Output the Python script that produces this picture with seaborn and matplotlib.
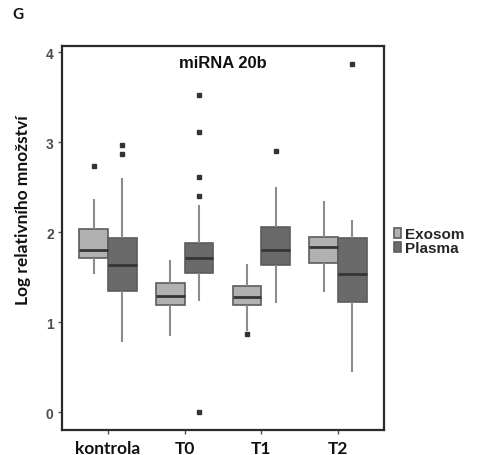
import matplotlib
matplotlib.use("Agg")
import matplotlib.pyplot as plt
import pandas as pd
import seaborn as sns

# Groups and sample fractions
groups = ["kontrola", "T0", "T1", "T2"]
fractions = ["Exosom", "Plasma"]

# Exosom: five-number summaries per group and outliers
exo_low = [1.53, 0.85, 0.90, 1.34]
exo_q1 = [1.71, 1.19, 1.19, 1.66]
exo_median = [1.80, 1.29, 1.28, 1.83]
exo_q3 = [2.04, 1.43, 1.40, 1.95]
exo_high = [2.37, 1.69, 1.65, 2.35]
exo_outliers = [[2.74], [], [0.87], []]

# Plasma: five-number summaries per group and outliers
pla_low = [0.78, 1.24, 1.21, 0.44]
pla_q1 = [1.35, 1.55, 1.63, 1.22]
pla_median = [1.63, 1.71, 1.80, 1.53]
pla_q3 = [1.94, 1.88, 2.06, 1.93]
pla_high = [2.60, 2.30, 2.50, 2.14]
pla_outliers = [[2.87, 2.97], [0.0, 2.40, 2.61, 3.11, 3.53], [2.90], [3.87]]


def sample_from_summary(lo, q1, med, q3, hi, outliers):
    """Sorted sample whose quartiles, whiskers and fliers equal the given summary."""
    below = sorted(v for v in outliers if v < q1)
    above = sorted(v for v in outliers if v > q3)
    k = max(1, len(below) + 1, len(above) + 1)
    return (below + [lo] + [q1] * (k - len(below)) + [med] * k
            + [q3] * (2 * k - len(above) - 1) + [hi] + above)


rows = []
summaries = {
    "Exosom": (exo_low, exo_q1, exo_median, exo_q3, exo_high, exo_outliers),
    "Plasma": (pla_low, pla_q1, pla_median, pla_q3, pla_high, pla_outliers),
}
for frac, (lo, q1, md, q3, hi, out) in summaries.items():
    for i, g in enumerate(groups):
        for v in sample_from_summary(lo[i], q1[i], md[i], q3[i], hi[i], out[i]):
            rows.append({"group": g, "fraction": frac, "value": v})
df = pd.DataFrame(rows)

sns.set_theme(style="white")
plt.rcParams["font.family"] = ["Liberation Sans", "DejaVu Sans"]

fig = plt.figure(figsize=(4.86, 4.56), dpi=100)
ax = fig.add_axes([62 / 486, 1 - 431 / 456, 322 / 486, 384 / 456])

sns.boxplot(
    data=df, x="group", y="value", hue="fraction",
    order=groups, hue_order=fractions,
    palette={"Exosom": "#b1b1b1", "Plasma": "#6a6a6a"},
    saturation=1, width=0.75, gap=0, linecolor="#5c5c5c", linewidth=1.2,
    whiskerprops={"color": "#8c8c8c", "linewidth": 1.5},
    capprops={"linewidth": 0},
    medianprops={"color": "#353535", "linewidth": 2.0},
    flierprops={"marker": "s", "markersize": 2.2, "markerfacecolor": "#333333",
                "markeredgecolor": "#333333"},
    ax=ax,
)

ax.set_xlim(-0.6, 3.6)
ax.set_ylim(-0.2, 4.07)
ax.set_yticks([0, 1, 2, 3, 4])
ax.set_xlabel("")
ax.set_ylabel("Log relativního množství", fontsize=12.5, fontweight="bold",
              family=["Lato", "DejaVu Sans"], color="#111111")
ax.yaxis.set_label_coords(-0.096, 0.576)

for s in ax.spines.values():
    s.set_color("#2a2a2a")
    s.set_linewidth(1.6)

ax.tick_params(axis="y", length=3, width=1, color="#555555", labelsize=10,
               labelcolor="#4d4d4d", pad=3, left=True)
ax.tick_params(axis="x", length=3, width=1, color="#555555", labelsize=12.5,
               labelcolor="#111111", pad=4, bottom=True)
for t in ax.get_yticklabels():
    t.set_fontweight("bold")
for t in ax.get_xticklabels():
    t.set_fontweight("bold")
    t.set_family(["Lato", "DejaVu Sans"])

ax.text(0.5, 0.958, "miRNA 20b", transform=ax.transAxes, ha="center", va="center",
        fontsize=12, fontweight="bold", color="#111111",
        family=["Liberation Sans", "DejaVu Sans"])

fig.text(12 / 486, 1 - 15 / 456, "G", ha="left", va="center", fontsize=11,
         fontweight="bold", family=["Lato", "DejaVu Sans"], color="#111111")

sns.move_legend(
    ax, loc="center left", bbox_to_anchor=(1.03, 0.492), title=None,
    frameon=False, fontsize=11, handlelength=0.5, handleheight=0.6,
    handletextpad=0.25, labelspacing=0.0, borderpad=0, borderaxespad=0,
)
for t in ax.get_legend().get_texts():
    t.set_fontweight("bold")

fig.savefig("out.png", dpi=100)
